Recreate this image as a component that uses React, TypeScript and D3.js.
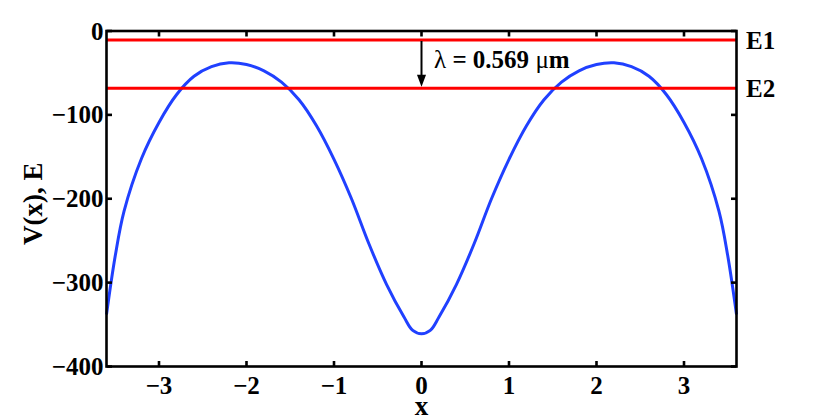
import React from 'react';
import * as d3 from 'd3';

// potential curve
const xValues = [
  -3.6, -3.5, -3.4, -3.2, -3.0, -2.8, -2.6, -2.4, -2.2, -2.0, -1.8, -1.6, -1.4, -1.2, -1.0, -0.8, -0.6, -0.4, -0.2, -0.1, 0,
  0.1, 0.2, 0.4, 0.6, 0.8, 1.0, 1.2, 1.4, 1.6, 1.8, 2.0, 2.2, 2.4, 2.6, 2.8, 3.0, 3.2, 3.4, 3.5, 3.6,
];
const potential = [
  -338, -268, -215, -152, -109, -76, -54, -42.5, -38, -40, -47.5, -61, -82, -113, -153, -200, -254, -302, -341, -357, -361,
  -357, -341, -302, -254, -200, -153, -113, -82, -61, -47.5, -40, -38, -42.5, -54, -76, -109, -152, -215, -268, -338,
];

const levelNames = ['E1', 'E2'];
const levelValues = [-10.7, -68.3];

const xTicks = [-3, -2, -1, 0, 1, 2, 3];
const yTicks = [-400, -300, -200, -100, 0];
const wavelengthValue = ' = 0.569 ';

const W = 814;
const H = 420;
const font = "'Liberation Serif', 'Times New Roman', serif";
const fs = 25;
const labelFs = 27;

export default function App() {
  const x = d3.scaleLinear().domain([-3.6, 3.6]).range([106.5, 736.5]);
  const y = d3.scaleLinear().domain([-400, 0]).range([366.5, 31]);
  const [x0, x1] = x.range();
  const [y0, y1] = y.range();
  const fmt = d3.format('d');

  const line = d3
    .line<number>()
    .x((_, i) => x(xValues[i]))
    .y((d) => y(d))
    .curve(d3.curveCatmullRom.alpha(0.5));

  const tickLen = 5.5;

  // arrow from E1 down to E2 at x = 0
  const ax = x(0);
  const tipY = y(levelValues[1]) - 1.5;
  const headLen = 12;
  const headHalf = 4.5;

  return (
    <svg
      width={W}
      height={H}
      style={{ position: 'absolute', left: 0, top: 0, background: '#fff' }}
      fontFamily={font}
      fontWeight="bold"
    >
      {/* curve */}
      <path d={line(potential) ?? ''} fill="none" stroke="#2040ff" strokeWidth={3} strokeLinejoin="round" />

      {/* energy levels */}
      {levelValues.map((v, i) => (
        <g key={levelNames[i]}>
          <line x1={x0} x2={x1} y1={y(v)} y2={y(v)} stroke="#ff0000" strokeWidth={3} />
          <text x={746} y={y(v) + 9} fontSize={fs} fill="#000">
            {levelNames[i]}
          </text>
        </g>
      ))}

      {/* transition arrow */}
      <line x1={ax} x2={ax} y1={y(levelValues[0]) + 1} y2={tipY - headLen + 1} stroke="#000" strokeWidth={2} />
      <path
        d={`M${ax - headHalf},${tipY - headLen} L${ax + headHalf},${tipY - headLen} L${ax},${tipY} Z`}
        fill="#000"
      />
      <text x={434} y={67.5} fontSize={fs} fill="#000" xmlSpace="preserve">
        <tspan fontWeight="normal">λ</tspan>
        <tspan>{wavelengthValue}</tspan>
        <tspan fontWeight="normal">μ</tspan>
        <tspan>m</tspan>
      </text>

      {/* axes box */}
      <rect x={x0} y={y1} width={x1 - x0} height={y0 - y1} fill="none" stroke="#000" strokeWidth={2.6} />

      {xTicks.map((t) => (
        <g key={'x' + t}>
          <line x1={x(t)} x2={x(t)} y1={y0} y2={y0 - tickLen} stroke="#000" strokeWidth={2.6} />
          <line x1={x(t)} x2={x(t)} y1={y1} y2={y1 + tickLen} stroke="#000" strokeWidth={2.6} />
          <text x={x(t)} y={393.5} fontSize={fs} textAnchor="middle" fill="#000">
            {fmt(t)}
          </text>
        </g>
      ))}

      {yTicks.map((t) => (
        <g key={'y' + t}>
          <line x1={x0} x2={x0 + tickLen} y1={y(t)} y2={y(t)} stroke="#000" strokeWidth={2.6} />
          <line x1={x1} x2={x1 - tickLen} y1={y(t)} y2={y(t)} stroke="#000" strokeWidth={2.6} />
          <text x={103.5} y={y(t) + 8.5} fontSize={fs} textAnchor="end" fill="#000">
            {fmt(t)}
          </text>
        </g>
      ))}

      {/* axis labels */}
      <text x={x(0)} y={414.5} fontSize={labelFs} textAnchor="middle" fill="#000">
        x
      </text>
      <text transform={`translate(42, ${(y0 + y1) / 2 + 5}) rotate(-90)`} fontSize={labelFs} textAnchor="middle" fill="#000">
        V(x), E
      </text>
    </svg>
  );
}
